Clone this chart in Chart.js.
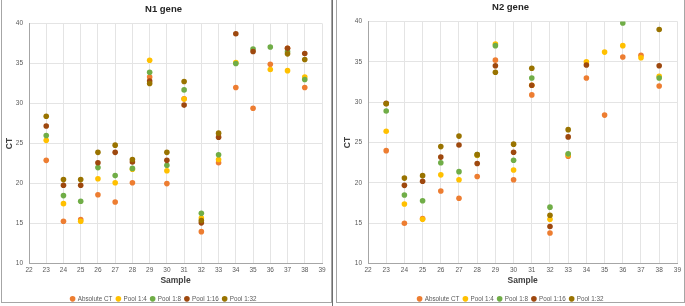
<!DOCTYPE html>
<html>
<head>
<meta charset="utf-8">
<script src="https://cdn.jsdelivr.net/npm/chart.js@4.4.1/dist/chart.umd.min.js"></script>
<style>
  body { margin: 0; background: #fff; width: 685px; height: 306px; position: relative; overflow: hidden; }
  .panel { position: absolute; top: 0; height: 302px; border: 1px solid #a6a6a6; border-top: none; background: #fff; }
  #panel1 { left: 1px; width: 329px; }
  #panel2 { left: 336px; width: 347px; }
  #divider { position: absolute; left: 332px; top: 0; width: 1px; height: 306px; background: #6e6e6e; }
  canvas { position: absolute; left: 0; top: 0; }
</style>
</head>
<body>
<div class="panel" id="panel1"><canvas id="chart1" width="329" height="312"></canvas></div>
<div id="divider"></div>
<div class="panel" id="panel2"><canvas id="chart2" width="347" height="312"></canvas></div>
<script>
// sample numbers on the x axis
const samples = [23, 24, 25, 26, 27, 28, 29, 30, 31, 32, 33, 34, 35, 36, 37, 38];
const xTicks = [22, 23, 24, 25, 26, 27, 28, 29, 30, 31, 32, 33, 34, 35, 36, 37, 38, 39];
const yTicks = [10, 15, 20, 25, 30, 35, 40];

const seriesNames = ['Absolute CT', 'Pool 1:4', 'Pool 1:8', 'Pool 1:16', 'Pool 1:32'];
const seriesColors = ['#ED7D31', '#FFC000', '#70AD47', '#9E480E', '#997300'];

// N1 gene CT values (null = no point)
const n1Absolute = [22.9, 15.3, 15.5, 18.6, 17.7, 20.1, 33.3, 20.0, 30.6, 14.0, 22.6, 32.0, 29.4, 34.9, 36.9, 32.0];
const n1Pool4    = [25.4, 17.5, 15.3, 20.6, 20.1, 21.8, 35.4, 21.6, 30.55, 15.7, 23.0, 35.1, null, 34.25, 34.1, 33.3];
const n1Pool8    = [26.0, 18.5, 17.8, 22.0, 21.0, 21.9, 33.9, 22.3, 31.7, 16.3, 23.6, 35.0, 36.8, 37.05, 36.5, 33.0];
const n1Pool16   = [27.2, 19.8, 19.8, 22.6, 23.9, 22.7, 32.8, 22.9, 29.8, 15.1, 25.8, 38.7, 36.5, null, 36.9, 36.25];
const n1Pool32   = [28.4, 20.5, 20.5, 23.9, 24.8, 23.0, 32.5, 23.9, 32.75, 15.4, 26.3, null, null, null, 36.2, 35.5];

// N2 gene CT values
const n2Absolute = [24.0, 15.0, 15.6, 19.0, 18.1, 20.8, 35.2, 20.4, 30.9, 13.8, 23.3, 33.0, 28.4, 35.6, 35.8, 32.0];
const n2Pool4    = [26.4, 17.4, 15.5, 21.0, 20.4, 23.4, 37.2, 21.6, 32.1, 15.5, 23.5, 35.0, 36.2, 37.0, 35.5, 33.2];
const n2Pool8    = [28.9, 18.5, 17.8, 22.5, 21.4, 23.5, 37.0, 22.8, 33.0, 17.0, 23.6, null, null, 39.8, null, 33.0];
const n2Pool16   = [29.85, 19.7, 20.2, 23.2, 24.7, 22.4, 34.5, 23.8, 32.1, 14.6, 25.7, 34.6, null, null, null, 34.5];
const n2Pool32   = [29.8, 20.6, 20.9, 24.5, 25.8, 23.5, 33.7, 24.8, 34.2, 16.0, 26.6, null, null, null, null, 39.0];

const FONT = "'Liberation Sans', Arial, sans-serif";

function buildDatasets(allValues) {
  return allValues.map((vals, i) => ({
    label: seriesNames[i],
    data: samples.map((s, j) => ({ x: s, y: vals[j] })).filter(p => p.y !== null),
    backgroundColor: seriesColors[i],
    borderColor: seriesColors[i],
    borderWidth: 0,
    pointRadius: 2.8,
    order: allValues.length - i // later series drawn on top, like Excel
  }));
}

function makeChart(canvasId, title, allValues, leftPad, yWidth, rightPad, topPad) {
  const ctx = document.getElementById(canvasId).getContext('2d');
  return new Chart(ctx, {
    type: 'scatter',
    data: { datasets: buildDatasets(allValues) },
    options: {
      responsive: false,
      animation: false,
      layout: { padding: { left: leftPad, right: rightPad, top: 0, bottom: 0 } },
      scales: {
        x: {
          type: 'linear', min: 22, max: 39,
          afterBuildTicks: s => { s.ticks = xTicks.map(v => ({ value: v })); },
          afterFit: s => { s.height = 28; },
          grid: { color: '#e4e4e4', drawTicks: false },
          border: { color: '#a6a6a6' },
          ticks: { padding: 3, color: '#595959', font: { family: FONT, size: 6.5 }, maxRotation: 0, autoSkip: false },
          title: { display: true, text: 'Sample', color: '#404040', padding: { top: 1, bottom: 6 }, font: { family: FONT, size: 8.5, weight: 'bold' } }
        },
        y: {
          type: 'linear', min: 10, max: 40,
          afterBuildTicks: s => { s.ticks = yTicks.map(v => ({ value: v })); },
          afterFit: s => { s.width = yWidth; },
          grid: { color: '#e4e4e4', drawTicks: false },
          border: { color: '#a6a6a6' },
          ticks: { padding: 6, color: '#595959', font: { family: FONT, size: 6.5 } },
          title: { display: true, text: 'CT', color: '#404040', padding: 0, font: { family: FONT, size: 8.5, weight: 'bold' } }
        }
      },
      plugins: {
        title: { display: true, text: title, color: '#262626', padding: { top: topPad, bottom: 8 }, font: { family: FONT, size: 9.5, weight: 'bold' } },
        legend: {
          position: 'bottom',
          labels: {
            usePointStyle: true, pointStyle: 'circle', boxWidth: 4, boxHeight: 4, padding: 4,
            color: '#595959', font: { family: FONT, size: 6.3 },
            sort: (a, b) => a.datasetIndex - b.datasetIndex
          }
        },
        tooltip: { enabled: false }
      }
    }
  });
}

makeChart('chart1', 'N1 gene', [n1Absolute, n1Pool4, n1Pool8, n1Pool16, n1Pool32], 3, 24, 9, 4);
makeChart('chart2', 'N2 gene', [n2Absolute, n2Pool4, n2Pool8, n2Pool16, n2Pool32], 6, 25, 6, 2);
</script>
</body>
</html>
